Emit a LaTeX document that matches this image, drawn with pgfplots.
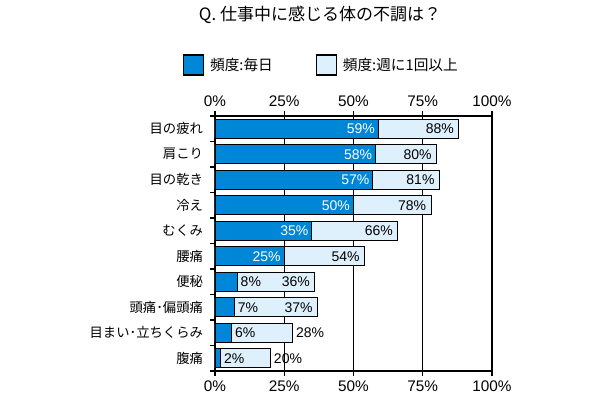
\documentclass[border=0pt]{standalone}
\usepackage{pgfplots}
\pgfplotsset{compat=1.18}
\usepackage{fontspec}
\setmainfont{Liberation Sans}
\newfontfamily\jp{Noto Sans CJK JP}
\definecolor{blueD}{RGB}{0,134,214}
\definecolor{blueL}{RGB}{221,240,252}
\begin{document}
\begin{tikzpicture}
\useasboundingbox (-161.25pt,-21.75pt) rectangle (296.25pt,278.25pt);
\pgfplotsset{
  /pgf/number format/assume math mode=true,
  lbl/.style={nodes near coords={\pgfmathprintnumber[fixed,precision=0]{\pgfplotspointmeta}\%},
    point meta=x,
    every node near coord/.append style={font=\fontsize{10.5}{12}\selectfont}},
  lin/.style={lbl, every node near coord/.append style={anchor=east, text=black, xshift=0pt}},
  lout/.style={lbl, every node near coord/.append style={anchor=west, text=black, xshift=-1pt}},
  din/.style={lbl, every node near coord/.append style={anchor=east, text=white, xshift=1pt}},
  dout/.style={lbl, every node near coord/.append style={anchor=west, text=black, xshift=-1pt}},
}
\begin{axis}[
  at={(0,0)}, anchor=south west,
  scale only axis, width=207.75pt, height=191.25pt,
  xbar, bar shift=0pt, bar width=14.25pt,
  xmin=0, xmax=100, ymin=-0.5, ymax=9.5, y dir=reverse,
  xtick={0,25,50,75,100},
  xticklabel={\pgfmathprintnumber{\tick}\%},
  xticklabel style={font=\fontsize{11.5}{13}\selectfont},
  xtick pos=both, tick align=outside, major tick length=3.5pt,
  xmajorgrids, grid style={black, line width=0.6pt},
  ytick={-0.5,0.5,...,9.5},
  y tick label as interval,
  yticklabels={目の疲れ,肩こり,目の乾き,冷え,むくみ,腰痛,便秘,頭痛･偏頭痛,目まい･立ちくらみ,腹痛},
  yticklabel style={font=\jp\fontsize{10}{12}\selectfont, xshift=-2pt},
  ytick pos=left,
  axis line style={black, line width=0.8pt},
  tick style={black, line width=0.8pt},
  legend style={at={(0.385,1.2)}, anchor=center, draw=none, fill=none,
    font=\jp\fontsize{11}{13}\selectfont, legend columns=2,
    /tikz/every even column/.append style={column sep=30pt}},
  legend image code/.code={\path[draw=none, fill=none] (0pt,0pt) (18pt,0pt); \draw[#1, line width=1pt] (0pt,-7.5pt) rectangle (15pt,7.5pt);},
  legend cell align=left,
]
\addlegendimage{fill=blueD, draw=black}
\addlegendentry{頻度:毎日}
\addlegendimage{fill=blueL, draw=black}
\addlegendentry{頻度:週に1回以上}
% weekly, labels inside
\addplot[forget plot, fill=blueL, draw=black, line width=0.7pt, lin] coordinates {
 (88,0) (80,1) (81,2) (78,3) (66,4) (54,5) (36,6) (37,7)};
% weekly, labels outside
\addplot[forget plot, fill=blueL, draw=black, line width=0.7pt, lout] coordinates {
 (28,8) (20,9)};
% daily, labels inside
\addplot[forget plot, fill=blueD, draw=black, line width=0.7pt, din] coordinates {
 (59,0) (58,1) (57,2) (50,3) (35,4) (25,5)};
% daily, labels outside
\addplot[forget plot, fill=blueD, draw=black, line width=0.7pt, dout] coordinates {
 (8,6) (7,7) (6,8) (2,9)};
\end{axis}
\begin{axis}[
  at={(0,0)}, anchor=south west,
  scale only axis, width=207.75pt, height=191.25pt,
  xmin=0, xmax=100, ymin=0, ymax=1,
  axis x line*=top, axis y line=none,
  xtick={0,25,50,75,100},
  xticklabel={\pgfmathprintnumber{\tick}\%},
  xticklabel style={font=\fontsize{11.5}{13}\selectfont},
  tick align=outside, major tick length=3.5pt,
  /pgf/number format/assume math mode=true,
  axis line style={black, line width=0.8pt},
  tick style={black, line width=0.8pt},
]
\end{axis}
\node[font=\jp\fontsize{12.75}{15}\selectfont] at (78.75pt,267pt) {Q. 仕事中に感じる体の不調は？};
\end{tikzpicture}
\end{document}
